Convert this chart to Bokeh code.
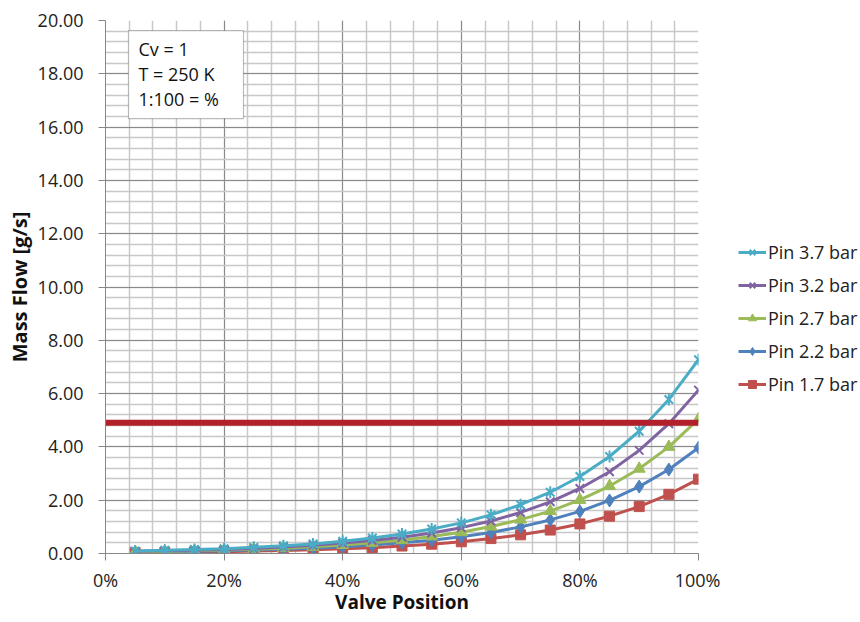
import math
from bokeh.plotting import figure
from bokeh.layouts import row
from bokeh.models import (Range1d, SingleIntervalTicker, NumeralTickFormatter, Legend, LegendItem,
                          BoxAnnotation, Label)
from bokeh.embed import file_html
from bokeh.resources import INLINE

# ---- data ----
valve_position = [0.05, 0.10, 0.15, 0.20, 0.25, 0.30, 0.35, 0.40, 0.45, 0.50,
                  0.55, 0.60, 0.65, 0.70, 0.75, 0.80, 0.85, 0.90, 0.95, 1.00]
pin_3_7 = [0.09, 0.12, 0.15, 0.18, 0.23, 0.29, 0.36, 0.46, 0.58, 0.73,
           0.92, 1.15, 1.45, 1.83, 2.30, 2.89, 3.64, 4.59, 5.78, 7.27]
pin_3_2 = [0.08, 0.10, 0.12, 0.15, 0.19, 0.24, 0.31, 0.39, 0.49, 0.61,
           0.77, 0.97, 1.22, 1.54, 1.94, 2.44, 3.07, 3.87, 4.87, 6.13]
pin_2_7 = [0.06, 0.08, 0.10, 0.13, 0.16, 0.20, 0.25, 0.32, 0.40, 0.50,
           0.64, 0.80, 1.01, 1.27, 1.59, 2.01, 2.53, 3.18, 4.00, 5.04]
pin_2_2 = [0.05, 0.06, 0.08, 0.10, 0.13, 0.16, 0.20, 0.25, 0.32, 0.40,
           0.50, 0.63, 0.79, 1.00, 1.26, 1.58, 1.99, 2.51, 3.15, 3.97]
pin_1_7 = [0.04, 0.04, 0.06, 0.07, 0.09, 0.11, 0.14, 0.18, 0.22, 0.28,
           0.35, 0.44, 0.56, 0.70, 0.88, 1.11, 1.40, 1.76, 2.22, 2.79]
series_names = ["Pin 3.7 bar", "Pin 3.2 bar", "Pin 2.7 bar", "Pin 2.2 bar", "Pin 1.7 bar"]
limit_flow = 4.91
info_lines = ["Cv = 1", "T = 250 K", "1:100 = %"]

FONT = "Open Sans"

p = figure(width=720, height=622, output_backend="svg", toolbar_location=None,
           x_range=Range1d(0, 1), y_range=Range1d(0, 20),
           min_border_left=105, min_border_right=22, min_border_top=20, min_border_bottom=69)
p.outline_line_color = None
p.background_fill_color = "white"
p.border_fill_color = "white"

# axes
p.xaxis.ticker = SingleIntervalTicker(interval=0.2, num_minor_ticks=5)
p.yaxis.ticker = SingleIntervalTicker(interval=2, num_minor_ticks=5)
p.xaxis.formatter = NumeralTickFormatter(format="0%")
p.yaxis.formatter = NumeralTickFormatter(format="0.00")
for ax in (p.xaxis, p.yaxis):
    ax.axis_line_color = "#868686"
    ax.major_tick_line_color = "#868686"
    ax.major_tick_out = 7
    ax.major_tick_in = 0
    ax.minor_tick_line_color = None
    ax.major_label_text_font = FONT
    ax.major_label_text_font_size = "18px"
    ax.major_label_text_color = "#222222"
    ax.axis_label_text_font = FONT
    ax.axis_label_text_font_style = "bold"
    ax.axis_label_text_color = "#111111"
p.xaxis.axis_label_text_font_size = "19px"
p.yaxis.axis_label_text_font_size = "20px"
p.xaxis.axis_label = "Valve Position"
p.yaxis.axis_label = "Mass Flow [g/s]"
p.yaxis.major_label_standoff = 15
p.xaxis.major_label_standoff = 7
p.yaxis.axis_label_standoff = 2
p.xaxis.axis_label_standoff = -6

# grid
for g in (p.xgrid, p.ygrid):
    g.grid_line_color = "#8a8a8a"
    g.grid_line_width = 1
    g.minor_grid_line_color = "#c8c8c8"
    g.minor_grid_line_width = 1.5

# legend panel (separate canvas to the right of the plot)
pl = figure(width=140, height=622, output_backend="svg", toolbar_location=None,
            x_range=Range1d(0, 1), y_range=Range1d(0, 1), min_border=0)
pl.axis.visible = False
pl.grid.visible = False
pl.outline_line_color = None

series = [pin_3_7, pin_3_2, pin_2_7, pin_2_2, pin_1_7]
colors = ["#4BACC6", "#8064A2", "#9BBB59", "#4F81BD", "#C0504D"]
markers = ["star6", "x", "triangle", "diamond", "square"]
sizes = [12, 12, 12, 13, 10]


def draw(fig, ys, c, m, s, visible=True):
    rs = [fig.line(valve_position, ys, line_color=c, line_width=3, visible=visible)]
    if m == "star6":
        rs.append(fig.scatter(valve_position, ys, marker="x", size=s, line_color=c,
                              line_width=2, visible=visible))
        rs.append(fig.scatter(valve_position, ys, marker="dash", size=s, angle=math.pi / 2,
                              line_color=c, line_width=2, visible=visible))
    elif m == "x":
        rs.append(fig.scatter(valve_position, ys, marker=m, size=s, line_color=c,
                              line_width=2, visible=visible))
    else:
        rs.append(fig.scatter(valve_position, ys, marker=m, size=s, fill_color=c,
                              line_color=c, visible=visible))
    return rs


items = []
for name, ys, c, m, s in zip(series_names[::-1], series[::-1], colors[::-1], markers[::-1], sizes[::-1]):
    draw(p, ys, c, m, s)
    items.append(LegendItem(label=name, renderers=draw(pl, ys, c, m, s, visible=False)))
items = items[::-1]

# limit line
p.line([0, 1], [limit_flow, limit_flow], line_color="#B2202B", line_width=6)

# info box
p.add_layout(BoxAnnotation(left=0.0388, right=0.2327, bottom=16.32, top=19.62,
                           fill_color="white", fill_alpha=1, line_color="#222222", line_width=1.2))
for txt, yy in zip(info_lines, [18.92, 18.00, 17.04]):
    p.add_layout(Label(x=0.0556, y=yy, text=txt, text_font=FONT, text_font_size="18px",
                       text_color="#111111", text_baseline="middle"))

legend = Legend(items=items, location=(18, 157), orientation="vertical",
                padding=0, margin=0, spacing=9, glyph_height=20, label_height=20,
                glyph_width=28, label_standoff=2,
                label_text_font=FONT, label_text_font_size="18px", label_text_color="#222222",
                border_line_color=None, background_fill_alpha=0)
pl.add_layout(legend)

layout = row(p, pl, spacing=0)
open("out.html", "w").write(file_html(layout, INLINE))
